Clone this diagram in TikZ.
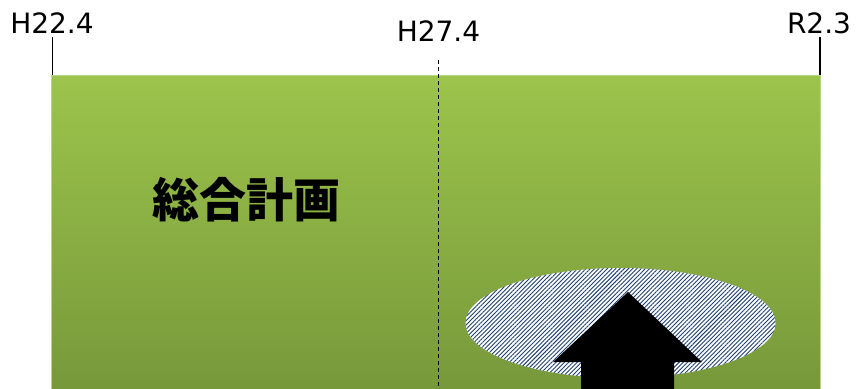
\documentclass[tikz,border=0pt]{standalone}
\usepackage{fontspec}
\setmainfont{DejaVu Sans}
\newfontfamily\cjk{Noto Sans CJK JP}
\usetikzlibrary{patterns.meta,shapes.geometric}
\definecolor{gtop}{HTML}{9DC44C}
\definecolor{gbot}{HTML}{77983A}
\definecolor{gedge}{HTML}{B8D786}
\definecolor{hatchblue}{HTML}{1F3F70}
\tikzset{
  lbl/.style={font=\fontsize{28}{30}\selectfont, inner sep=0pt, anchor=base},
  tick/.style={line width=1.5pt, black},
}
\begin{document}
\begin{tikzpicture}[x=1pt,y=-1pt]
\useasboundingbox (0,0) rectangle (856,388);
\clip (0,0) rectangle (856,388);
% green panel
\shade[top color=gtop, bottom color=gbot] (51,75) rectangle (820,392);
\draw[gedge, line width=1pt] (51,392) -- (51,75) -- (820,75) -- (820,392);
% labels
\node[lbl] (l1) at (52,33) {H22.4};
\node[lbl] (l2) at (438.5,41) {H27.4};
\node[lbl] (l3) at (819,33) {R2.3};
\coordinate (t1a) at (52.5,37);
\coordinate (t1b) at (52.5,75);
\coordinate (t3a) at (820,37);
\coordinate (t3b) at (820,75);
\coordinate (d1) at (438,60);
\coordinate (d2) at (438,392);
\draw[tick] (t1a) -- (t1b);
\draw[tick] (t3a) -- (t3b);
\draw[line width=1pt, dash pattern=on 4pt off 3pt] (d1) -- (d2);
% title
\node[inner sep=0pt] (title) at (246.5,200) {\cjk\bfseries\fontsize{47}{52}\selectfont 総合計画};
% hatched ellipse
\node[ellipse, minimum width=310pt, minimum height=110pt, inner sep=0pt,
  preaction={fill=white},
  pattern={Lines[angle=45, distance=3pt, line width=0.9pt]}, pattern color=hatchblue] (ell) at (620.5,323) {};
% arrow
\fill[black] (628,292) -- (702,362) -- (674,362) -- (674,395) -- (581,395) -- (581,362) -- (553,362) -- cycle;
\end{tikzpicture}
\end{document}
